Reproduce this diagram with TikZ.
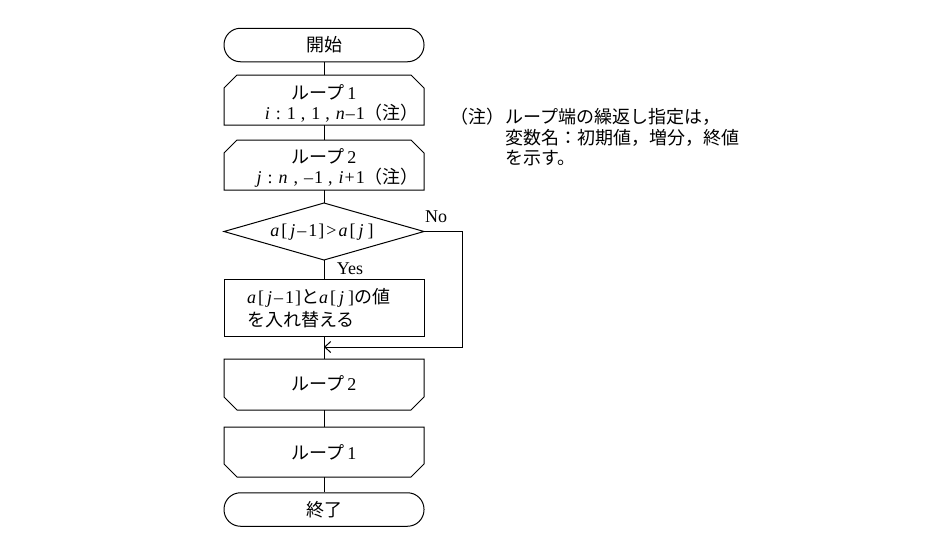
\documentclass[tikz,border=0pt]{standalone}
\usepackage{fontspec}
\setmainfont{Liberation Serif}
\newfontfamily\jpfont{Noto Sans CJK JP}
\newcommand{\J}[1]{{\jpfont #1}}
\newcommand{\V}[1]{\textit{#1}}
\newcommand{\gapx}[1][6pt]{\hspace{#1}}
\newcommand{\mn}{–}
\usetikzlibrary{calc,arrows.meta}
\begin{document}
\begin{tikzpicture}[x=1pt,y=-1pt,
  every node/.style={font=\fontsize{18pt}{21pt}\selectfont},
  frame/.style={draw=none,minimum width=200pt,inner sep=0pt,outer sep=0pt},
  term/.style={draw,line width=1pt,rounded corners=16.5pt,minimum width=200pt,minimum height=33.5pt,inner sep=0pt},
  ln/.style={line width=1pt},
  txt/.style={inner sep=0pt}]
\useasboundingbox (0,0) rectangle (947,542);
% terminals
\node[term] (S) at (324,45) {\J{開始}};
\node[term] (E) at (324,509.5) {\J{終了}};
% loop starts
\node[frame,minimum height=50pt] (L1s) at (324,100) {};
\node[frame,minimum height=50pt] (L2s) at (324,165) {};
\foreach \n in {L1s,L2s}{
  \draw[ln] ($(\n.north west)+(0,13)$) -- ($(\n.north west)+(13,0)$) -- ($(\n.north east)+(-13,0)$) -- ($(\n.north east)+(0,13)$) -- (\n.south east) -- (\n.south west) -- cycle;
}
\node[txt] (t1a) at (324,92) {\J{ループ}\,1};
\node[txt,anchor=east] (t1b) at (419,113) {\V{i}\gapx:\gapx1\gapx[5pt],\gapx1\gapx[5pt],\gapx\V{n}\gapx[1pt]\mn\gapx[1pt]1\J{（注）}};
\node[txt] (t2a) at (324,156) {\J{ループ}\,2};
\node[txt,anchor=east] (t2b) at (419,178) {\V{j}\gapx:\gapx\V{n}\gapx[6pt],\gapx\mn\gapx[1pt]1\gapx[5pt],\gapx\V{i}\gapx[1pt]+\gapx[1pt]1\J{（注）}};
% decision
\node[frame,minimum height=57pt] (D) at (324,231.5) {};
\draw[ln] (D.west) -- (D.north) -- (D.east) -- (D.south) -- cycle;
\node[txt] (dt) at (322,232) {\V{a}\gapx[2pt][\gapx[3pt]\V{j}\gapx[2pt]\mn\gapx[2pt]1\gapx[1pt]]\gapx[2pt]>\gapx[2pt]\V{a}\gapx[2pt][\gapx[3pt]\V{j}\gapx[4pt]]};
% process
\node[frame,minimum height=57pt,draw,line width=1pt] (P) at (324,307.5) {};
\node[txt,anchor=west] (p1) at (247,298) {\V{a}\gapx[2pt][\gapx[3pt]\V{j}\gapx[2pt]\mn\gapx[2pt]1\gapx[1pt]]\J{と}\V{a}\gapx[2pt][\gapx[3pt]\V{j}\gapx[4pt]]\J{の値}};
\node[txt,anchor=west] (p2) at (247,320) {\J{を入れ替える}};
% loop ends
\node[frame,minimum height=51pt] (L2e) at (324,384.5) {};
\node[frame,minimum height=50pt] (L1e) at (324,452) {};
\foreach \n in {L2e,L1e}{
  \draw[ln] ($(\n.south west)+(0,-13)$) -- ($(\n.south west)+(13,0)$) -- ($(\n.south east)+(-13,0)$) -- ($(\n.south east)+(0,-13)$) -- (\n.north east) -- (\n.north west) -- cycle;
}
\node[txt] (t3) at (324,383) {\J{ループ}\,2};
\node[txt] (t4) at (324,452) {\J{ループ}\,1};
% connectors
\coordinate (NR) at (462,231.5);
\coordinate (NB) at (462,347);
\coordinate (J) at (324,347);
\draw[ln] (S) -- (L1s);
\draw[ln] (L1s) -- (L2s);
\draw[ln] (L2s) -- (D.north);
\draw[ln] (D.south) -- (P);
\draw[ln] (P) -- (L2e);
\draw[ln] (L2e) -- (L1e);
\draw[ln] (L1e) -- (E);
\draw[ln,-{Straight Barb[length=6pt,width=11pt,line width=1pt]}] (D.east) -- (NR) -- (NB) -- (J);
\node[txt] (yes) at (350,269) {Yes};
\node[txt] (no) at (436,217) {No};
% note
\node[txt,anchor=east] (n0) at (505,117) {\J{（注）}};
\node[txt,anchor=west] (n1) at (505,117) {\J{ループ端の繰返し指定は，}};
\node[txt,anchor=west] (n2) at (505,138) {\J{変数名：初期値，増分，終値}};
\node[txt,anchor=west] (n3) at (505,158.5) {\J{を示す。}};
\end{tikzpicture}
\end{document}
